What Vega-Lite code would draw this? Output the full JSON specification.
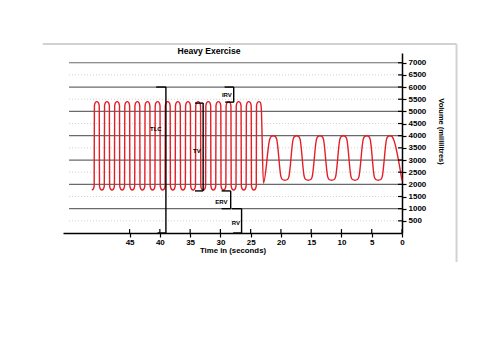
{
  "$schema": "https://vega.github.io/schema/vega-lite/v6.json",
  "width": 339,
  "height": 180,
  "autosize": {"type": "none"},
  "padding": {"left": 63, "top": 53, "right": 98, "bottom": 120},
  "background": "white",
  "config": {
    "view": {"stroke": null},
    "font": "Liberation Sans",
    "axis": {
      "grid": false,
      "labelOverlap": false,
      "labelFlush": false,
      "domainColor": "black",
      "domainWidth": 1.5,
      "tickColor": "black",
      "tickWidth": 1.2,
      "tickSize": 4,
      "labelFont": "Liberation Sans",
      "labelFontSize": 8,
      "labelFontWeight": "bold",
      "labelColor": "black",
      "titleFont": "Liberation Sans",
      "titleFontWeight": "bold",
      "titleColor": "black"
    },
    "axisX": {"labelPadding": 1, "titleFontSize": 7.8, "titlePadding": 0},
    "axisY": {
      "labelPadding": 2,
      "titleFontSize": 7.5,
      "titleAngle": 90,
      "titleX": 38,
      "titleY": 78,
      "titleAlign": "center",
      "titleBaseline": "middle"
    }
  },
  "title": {
    "text": "Heavy Exercise",
    "font": "Liberation Sans",
    "fontSize": 8.6,
    "fontWeight": "bold",
    "color": "black",
    "frame": "group",
    "dx": -23.5,
    "offset": -13
  },
  "datasets": {
    "wave": [
      {"t": 51.25, "v": 1770}, {"t": 51.0, "v": 1810}, {"t": 50.85, "v": 1940},
      {"t": 50.813, "v": 5230}, {"t": 50.663, "v": 5360}, {"t": 50.413, "v": 5400}, {"t": 50.163, "v": 5360}, {"t": 50.013, "v": 5230},
      {"t": 49.976, "v": 1940}, {"t": 49.826, "v": 1810}, {"t": 49.576, "v": 1770}, {"t": 49.326, "v": 1810}, {"t": 49.176, "v": 1940},
      {"t": 49.139, "v": 5230}, {"t": 48.989, "v": 5360}, {"t": 48.739, "v": 5400}, {"t": 48.489, "v": 5360}, {"t": 48.339, "v": 5230},
      {"t": 48.302, "v": 1940}, {"t": 48.152, "v": 1810}, {"t": 47.902, "v": 1770}, {"t": 47.652, "v": 1810}, {"t": 47.502, "v": 1940},
      {"t": 47.466, "v": 5230}, {"t": 47.316, "v": 5360}, {"t": 47.066, "v": 5400}, {"t": 46.816, "v": 5360}, {"t": 46.666, "v": 5230},
      {"t": 46.629, "v": 1940}, {"t": 46.479, "v": 1810}, {"t": 46.229, "v": 1770}, {"t": 45.979, "v": 1810}, {"t": 45.829, "v": 1940},
      {"t": 45.792, "v": 5230}, {"t": 45.642, "v": 5360}, {"t": 45.392, "v": 5400}, {"t": 45.142, "v": 5360}, {"t": 44.992, "v": 5230},
      {"t": 44.955, "v": 1940}, {"t": 44.805, "v": 1810}, {"t": 44.555, "v": 1770}, {"t": 44.305, "v": 1810}, {"t": 44.155, "v": 1940},
      {"t": 44.118, "v": 5230}, {"t": 43.968, "v": 5360}, {"t": 43.718, "v": 5400}, {"t": 43.468, "v": 5360}, {"t": 43.318, "v": 5230},
      {"t": 43.281, "v": 1940}, {"t": 43.131, "v": 1810}, {"t": 42.881, "v": 1770}, {"t": 42.631, "v": 1810}, {"t": 42.481, "v": 1940},
      {"t": 42.445, "v": 5230}, {"t": 42.295, "v": 5360}, {"t": 42.045, "v": 5400}, {"t": 41.795, "v": 5360}, {"t": 41.645, "v": 5230},
      {"t": 41.608, "v": 1940}, {"t": 41.458, "v": 1810}, {"t": 41.208, "v": 1770}, {"t": 40.958, "v": 1810}, {"t": 40.808, "v": 1940},
      {"t": 40.771, "v": 5230}, {"t": 40.621, "v": 5360}, {"t": 40.371, "v": 5400}, {"t": 40.121, "v": 5360}, {"t": 39.971, "v": 5230},
      {"t": 39.934, "v": 1940}, {"t": 39.784, "v": 1810}, {"t": 39.534, "v": 1770}, {"t": 39.284, "v": 1810}, {"t": 39.134, "v": 1940},
      {"t": 39.098, "v": 5230}, {"t": 38.948, "v": 5360}, {"t": 38.698, "v": 5400}, {"t": 38.448, "v": 5360}, {"t": 38.298, "v": 5230},
      {"t": 38.261, "v": 1940}, {"t": 38.111, "v": 1810}, {"t": 37.861, "v": 1770}, {"t": 37.611, "v": 1810}, {"t": 37.461, "v": 1940},
      {"t": 37.424, "v": 5230}, {"t": 37.274, "v": 5360}, {"t": 37.024, "v": 5400}, {"t": 36.774, "v": 5360}, {"t": 36.624, "v": 5230},
      {"t": 36.587, "v": 1940}, {"t": 36.437, "v": 1810}, {"t": 36.187, "v": 1770}, {"t": 35.937, "v": 1810}, {"t": 35.787, "v": 1940},
      {"t": 35.750, "v": 5230}, {"t": 35.600, "v": 5360}, {"t": 35.350, "v": 5400}, {"t": 35.100, "v": 5360}, {"t": 34.950, "v": 5230},
      {"t": 34.913, "v": 1940}, {"t": 34.763, "v": 1810}, {"t": 34.513, "v": 1770}, {"t": 34.263, "v": 1810}, {"t": 34.113, "v": 1940},
      {"t": 34.077, "v": 5230}, {"t": 33.927, "v": 5360}, {"t": 33.677, "v": 5400}, {"t": 33.427, "v": 5360}, {"t": 33.277, "v": 5230},
      {"t": 33.240, "v": 1940}, {"t": 33.090, "v": 1810}, {"t": 32.840, "v": 1770}, {"t": 32.590, "v": 1810}, {"t": 32.440, "v": 1940},
      {"t": 32.403, "v": 5230}, {"t": 32.253, "v": 5360}, {"t": 32.003, "v": 5400}, {"t": 31.753, "v": 5360}, {"t": 31.603, "v": 5230},
      {"t": 31.566, "v": 1940}, {"t": 31.416, "v": 1810}, {"t": 31.166, "v": 1770}, {"t": 30.916, "v": 1810}, {"t": 30.766, "v": 1940},
      {"t": 30.730, "v": 5230}, {"t": 30.580, "v": 5360}, {"t": 30.330, "v": 5400}, {"t": 30.080, "v": 5360}, {"t": 29.930, "v": 5230},
      {"t": 29.893, "v": 1940}, {"t": 29.743, "v": 1810}, {"t": 29.493, "v": 1770}, {"t": 29.243, "v": 1810}, {"t": 29.093, "v": 1940},
      {"t": 29.056, "v": 5230}, {"t": 28.906, "v": 5360}, {"t": 28.656, "v": 5400}, {"t": 28.406, "v": 5360}, {"t": 28.256, "v": 5230},
      {"t": 28.219, "v": 1940}, {"t": 28.069, "v": 1810}, {"t": 27.819, "v": 1770}, {"t": 27.569, "v": 1810}, {"t": 27.419, "v": 1940},
      {"t": 27.382, "v": 5230}, {"t": 27.232, "v": 5360}, {"t": 26.982, "v": 5400}, {"t": 26.732, "v": 5360}, {"t": 26.582, "v": 5230},
      {"t": 26.545, "v": 1940}, {"t": 26.395, "v": 1810}, {"t": 26.145, "v": 1770}, {"t": 25.895, "v": 1810}, {"t": 25.745, "v": 1940},
      {"t": 25.709, "v": 5230}, {"t": 25.559, "v": 5360}, {"t": 25.309, "v": 5400}, {"t": 25.059, "v": 5360}, {"t": 24.909, "v": 5230},
      {"t": 24.872, "v": 1940}, {"t": 24.722, "v": 1810}, {"t": 24.472, "v": 1770}, {"t": 24.222, "v": 1810}, {"t": 24.072, "v": 1940},
      {"t": 24.035, "v": 5230}, {"t": 23.885, "v": 5360}, {"t": 23.635, "v": 5400}, {"t": 23.385, "v": 5360}, {"t": 23.25, "v": 5150},
      {"t": 22.89, "v": 2050},
      {"t": 21.85, "v": 3850}, {"t": 21.6, "v": 3970}, {"t": 21.27, "v": 4000}, {"t": 20.94, "v": 3970}, {"t": 20.69, "v": 3850},
      {"t": 20.0, "v": 2320}, {"t": 19.75, "v": 2200}, {"t": 19.34, "v": 2170}, {"t": 18.93, "v": 2200}, {"t": 18.68, "v": 2320},
      {"t": 17.99, "v": 3850}, {"t": 17.74, "v": 3970}, {"t": 17.41, "v": 4000}, {"t": 17.08, "v": 3970}, {"t": 16.83, "v": 3850},
      {"t": 16.15, "v": 2320}, {"t": 15.9, "v": 2200}, {"t": 15.49, "v": 2170}, {"t": 15.08, "v": 2200}, {"t": 14.83, "v": 2320},
      {"t": 14.13, "v": 3850}, {"t": 13.88, "v": 3970}, {"t": 13.55, "v": 4000}, {"t": 13.22, "v": 3970}, {"t": 12.97, "v": 3850},
      {"t": 12.28, "v": 2320}, {"t": 12.03, "v": 2200}, {"t": 11.62, "v": 2170}, {"t": 11.21, "v": 2200}, {"t": 10.96, "v": 2320},
      {"t": 10.27, "v": 3850}, {"t": 10.02, "v": 3970}, {"t": 9.69, "v": 4000}, {"t": 9.36, "v": 3970}, {"t": 9.11, "v": 3850},
      {"t": 8.43, "v": 2320}, {"t": 8.18, "v": 2200}, {"t": 7.77, "v": 2170}, {"t": 7.36, "v": 2200}, {"t": 7.11, "v": 2320},
      {"t": 6.41, "v": 3850}, {"t": 6.16, "v": 3970}, {"t": 5.83, "v": 4000}, {"t": 5.5, "v": 3970}, {"t": 5.25, "v": 3850},
      {"t": 4.58, "v": 2320}, {"t": 4.33, "v": 2200}, {"t": 3.92, "v": 2170}, {"t": 3.51, "v": 2200}, {"t": 3.26, "v": 2320},
      {"t": 2.56, "v": 3850}, {"t": 2.31, "v": 3970}, {"t": 1.98, "v": 4000}, {"t": 1.65, "v": 3970}, {"t": 1.4, "v": 3850},
      {"t": 0, "v": 2150}
    ],
    "major": [{"v": 1000}, {"v": 2000}, {"v": 3000}, {"v": 4000}, {"v": 5000}, {"v": 6000}, {"v": 7000}],
    "minor": [{"v": 500}, {"v": 1500}, {"v": 2500}, {"v": 3500}, {"v": 4500}, {"v": 5500}, {"v": 6500}],
    "xticks": [{"t": 0}, {"t": 5}, {"t": 10}, {"t": 15}, {"t": 20}, {"t": 25}, {"t": 30}, {"t": 35}, {"t": 40}, {"t": 45}],
    "brackets": [
      {"t": 40.6, "t2": 39.0, "v": 6000, "v2": 6000},
      {"t": 39.0, "t2": 39.0, "v": 6000, "v2": 0},
      {"t": 40.4, "t2": 39.0, "v": 0, "v2": 0},
      {"t": 29.3, "t2": 27.8, "v": 6000, "v2": 6000},
      {"t": 27.8, "t2": 27.8, "v": 6000, "v2": 5380},
      {"t": 29.2, "t2": 27.8, "v": 5380, "v2": 5380},
      {"t": 34.2, "t2": 32.85, "v": 5340, "v2": 5340},
      {"t": 32.85, "t2": 32.85, "v": 5340, "v2": 1730},
      {"t": 34.2, "t2": 32.85, "v": 1730, "v2": 1730},
      {"t": 29.8, "t2": 28.3, "v": 1730, "v2": 1730},
      {"t": 28.3, "t2": 28.3, "v": 1730, "v2": 1000},
      {"t": 29.8, "t2": 28.3, "v": 1000, "v2": 1000},
      {"t": 28.1, "t2": 26.5, "v": 1000, "v2": 1000},
      {"t": 26.5, "t2": 26.5, "v": 1000, "v2": 0},
      {"t": 27.9, "t2": 26.5, "v": 0, "v2": 0}
    ],
    "labels": [
      {"t": 40.66, "v": 4280, "text": "TLC"},
      {"t": 28.93, "v": 5680, "text": "IRV"},
      {"t": 33.88, "v": 3355, "text": "TV"},
      {"t": 29.83, "v": 1290, "text": "ERV"},
      {"t": 27.44, "v": 424, "text": "RV"}
    ],
    "frame": [
      {"t": 59.34, "t2": -9.01, "v": 7770, "v2": 7770},
      {"t": -9.01, "t2": -9.01, "v": 7770, "v2": -1192}
    ]
  },
  "layer": [
    {
      "data": {"name": "frame"},
      "mark": {"type": "rule", "color": "#d2d2d2", "strokeWidth": 2},
      "encoding": {
        "x": {
          "field": "t",
          "type": "quantitative",
          "scale": {"domain": [0, 56], "reverse": true, "nice": false, "zero": false},
          "axis": {
            "title": "Time in (seconds)",
            "values": [0, 5, 10, 15, 20, 25, 30, 35, 40, 45],
            "tickCount": 40,
            "labelOverlap": false
          }
        },
        "x2": {"field": "t2"},
        "y": {
          "field": "v",
          "type": "quantitative",
          "scale": {"domain": [0, 7400], "nice": false, "zero": false},
          "axis": {
            "orient": "right",
            "title": "Volume (millilitres)",
            "format": "d",
            "values": [500, 1000, 1500, 2000, 2500, 3000, 3500, 4000, 4500, 5000, 5500, 6000, 6500, 7000],
            "tickCount": 40,
            "labelOverlap": false
          }
        },
        "y2": {"field": "v2"}
      }
    },
    {
      "data": {"name": "minor"},
      "mark": {"type": "rule", "color": "#cfcfcf", "strokeWidth": 1, "strokeDash": [1, 2]},
      "encoding": {
        "x": {"datum": 55, "type": "quantitative"},
        "x2": {"datum": 0},
        "y": {"field": "v", "type": "quantitative"}
      }
    },
    {
      "data": {"name": "major"},
      "mark": {"type": "rule", "color": "#6a6a6a", "strokeWidth": 1.2},
      "encoding": {
        "x": {"datum": 55, "type": "quantitative"},
        "x2": {"datum": 0},
        "y": {"field": "v", "type": "quantitative"}
      }
    },
    {
      "data": {"name": "wave"},
      "mark": {"type": "line", "color": "#e41e26", "strokeWidth": 1.4, "interpolate": "monotone"},
      "encoding": {
        "x": {"field": "t", "type": "quantitative"},
        "y": {"field": "v", "type": "quantitative"}
      }
    },
    {
      "data": {"name": "brackets"},
      "mark": {"type": "rule", "color": "black", "strokeWidth": 1.4},
      "encoding": {
        "x": {"field": "t", "type": "quantitative"},
        "x2": {"field": "t2"},
        "y": {"field": "v", "type": "quantitative"},
        "y2": {"field": "v2"}
      }
    },
    {
      "data": {"name": "labels"},
      "mark": {"type": "text", "font": "Liberation Sans", "fontSize": 6, "fontWeight": "bold", "color": "black", "align": "center", "baseline": "middle"},
      "encoding": {
        "x": {"field": "t", "type": "quantitative"},
        "y": {"field": "v", "type": "quantitative"},
        "text": {"field": "text"}
      }
    },
    {
      "data": {"name": "xticks"},
      "mark": {"type": "rule", "color": "black", "strokeWidth": 1.2},
      "encoding": {
        "x": {"field": "t", "type": "quantitative"},
        "y": {"datum": 0, "type": "quantitative"},
        "y2": {"datum": 160}
      }
    },
    {
      "data": {"name": "minor"},
      "mark": {"type": "rule", "color": "black", "strokeWidth": 1.2},
      "encoding": {
        "x": {"datum": 0.66, "type": "quantitative"},
        "x2": {"datum": 0},
        "y": {"field": "v", "type": "quantitative"}
      }
    },
    {
      "data": {"name": "major"},
      "mark": {"type": "rule", "color": "black", "strokeWidth": 1.2},
      "encoding": {
        "x": {"datum": 0.66, "type": "quantitative"},
        "x2": {"datum": 0},
        "y": {"field": "v", "type": "quantitative"}
      }
    }
  ]
}
